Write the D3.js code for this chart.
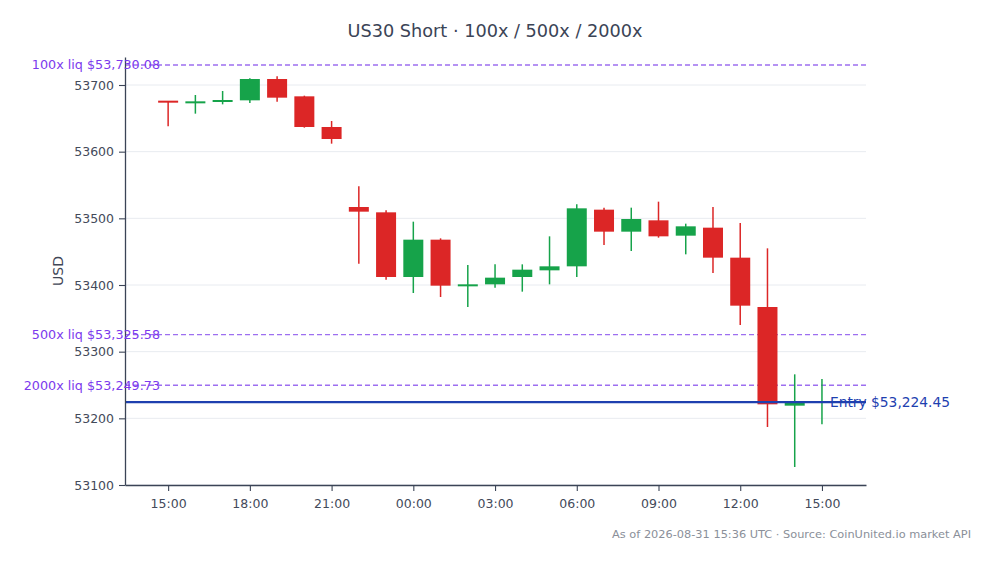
<!DOCTYPE html>
<html>
<head>
<meta charset="utf-8">
<script src="https://cdn.jsdelivr.net/npm/d3@7"></script>
<style>
  html, body { margin: 0; padding: 0; background: #fff; }
  svg { display: block; font-family: "DejaVu Sans", sans-serif; }
</style>
</head>
<body>
<div id="chart"></div>
<script>
// hourly candles, UTC
var hours = [
    "2026-08-30T15:00Z", "2026-08-30T16:00Z", "2026-08-30T17:00Z", "2026-08-30T18:00Z",
    "2026-08-30T19:00Z", "2026-08-30T20:00Z", "2026-08-30T21:00Z", "2026-08-30T22:00Z",
    "2026-08-30T23:00Z", "2026-08-31T00:00Z", "2026-08-31T01:00Z", "2026-08-31T02:00Z",
    "2026-08-31T03:00Z", "2026-08-31T04:00Z", "2026-08-31T05:00Z", "2026-08-31T06:00Z",
    "2026-08-31T07:00Z", "2026-08-31T08:00Z", "2026-08-31T09:00Z", "2026-08-31T10:00Z",
    "2026-08-31T11:00Z", "2026-08-31T12:00Z", "2026-08-31T13:00Z", "2026-08-31T14:00Z",
    "2026-08-31T15:00Z"
];
var opens  = [53676, 53673, 53675, 53677, 53709, 53683, 53637, 53517, 53509, 53412, 53468, 53398, 53401,
              53412, 53422, 53428, 53513, 53480, 53497, 53474, 53486, 53441, 53367, 53219, 53223];
var highs  = [53676, 53685, 53691, 53710, 53713, 53684, 53646, 53548, 53512, 53495, 53470, 53430, 53431,
              53431, 53473, 53521, 53516, 53516, 53525, 53492, 53517, 53493, 53455, 53266, 53259];
var lows   = [53638, 53657, 53671, 53673, 53675, 53636, 53612, 53432, 53408, 53388, 53382, 53367, 53396,
              53390, 53401, 53412, 53460, 53451, 53471, 53446, 53418, 53340, 53187, 53127, 53191];
var closes = [53674, 53675, 53677, 53709, 53681, 53637, 53619, 53510, 53412, 53468, 53399, 53401, 53411,
              53423, 53428, 53515, 53480, 53499, 53473, 53488, 53441, 53369, 53221, 53223, 53226];

var liqLabels = ["100x", "500x", "2000x"];
var liqPrices = [53730.08, 53325.58, 53249.73];
var entryPrice = 53224.45;

var yTicks = [53100, 53200, 53300, 53400, 53500, 53600, 53700];

var titleText = "US30 Short \u00b7 100x / 500x / 2000x";
var footText = "As of 2026-08-31 15:36 UTC \u00b7 Source: CoinUnited.io market API";

//==========================================================================================
var drawChart = function () {
    var width = 994, height = 564;
    var pLeft = 125, pRight = 866, pTop = 57, pBottom = 485;

    var candles = hours.map(function (h, i) {
        return { t: new Date(h), o: opens[i], h: highs[i], l: lows[i], c: closes[i] };
    });

    var svg = d3.select("#chart").append("svg")
        .attr("width", width).attr("height", height);

    var t0 = candles[0].t, t1 = candles[candles.length - 1].t;
    var xScale = d3.scaleUtc()
        .domain([new Date(+t0 - 95 * 60000), new Date(+t1 + 97 * 60000)])
        .range([pLeft, pRight]);

    var yScale = d3.scaleLinear()
        .domain([53100, 53742])
        .range([pBottom, pTop]);

    // grid
    svg.append("g").selectAll("line").data(yTicks).enter().append("line")
        .attr("x1", pLeft).attr("x2", pRight)
        .attr("y1", function (d) { return yScale(d); })
        .attr("y2", function (d) { return yScale(d); })
        .style("stroke", "#e8ebf0").style("stroke-width", 1);

    // liquidation levels (under the candles)
    var fmt = d3.format(",.2f");
    svg.append("g").selectAll("line").data(liqPrices).enter().append("line")
        .attr("x1", pLeft).attr("x2", pRight)
        .attr("y1", function (d) { return yScale(d); })
        .attr("y2", function (d) { return yScale(d); })
        .style("stroke", "#9d6ff0").style("stroke-width", 1.4)
        .style("stroke-dasharray", "5,3");

    // candles
    var bodyW = 20;
    var g = svg.append("g");
    candles.forEach(function (d) {
        var col = d.c >= d.o ? "#16a34a" : "#dc2626";
        var x = xScale(d.t);
        g.append("line")
            .attr("x1", x).attr("x2", x)
            .attr("y1", yScale(d.h)).attr("y2", yScale(d.l))
            .style("stroke", col).style("stroke-width", 1.5);
        var yTop = yScale(Math.max(d.o, d.c)), yBot = yScale(Math.min(d.o, d.c));
        var hgt = Math.max(2, yBot - yTop);
        g.append("rect")
            .attr("x", x - bodyW / 2).attr("width", bodyW)
            .attr("y", (yTop + yBot) / 2 - hgt / 2).attr("height", hgt)
            .style("fill", col);
    });

    // entry line on top
    svg.append("line")
        .attr("x1", pLeft).attr("x2", pRight)
        .attr("y1", yScale(entryPrice)).attr("y2", yScale(entryPrice))
        .style("stroke", "#1e40af").style("stroke-width", 2.3);

    // axes
    var xAxis = d3.axisBottom(xScale)
        .ticks(d3.utcHour.every(3))
        .tickFormat(d3.utcFormat("%H:%M"))
        .tickSizeInner(6).tickSizeOuter(0).tickPadding(8);
    var yAxis = d3.axisLeft(yScale)
        .tickValues(yTicks).tickFormat(d3.format("d"))
        .tickSizeInner(6).tickSizeOuter(0).tickPadding(5);

    var gx = svg.append("g").attr("transform", "translate(0," + pBottom + ")").call(xAxis);
    var gy = svg.append("g").attr("transform", "translate(" + pLeft + ",0)").call(yAxis);
    [gx, gy].forEach(function (a) {
        a.select(".domain").style("stroke", "#3b4456").style("stroke-width", 1.3);
        a.selectAll(".tick line").style("stroke", "#3b4456").style("stroke-width", 1.1);
        a.selectAll(".tick text").style("fill", "#434a5a")
            .style("font-size", "12.5px").style("font-family", "DejaVu Sans, sans-serif");
    });

    // level labels, drawn over the axis
    svg.append("g").selectAll("text").data(liqPrices).enter().append("text")
        .attr("x", 160)
        .attr("y", function (d) { return yScale(d) + 4.5; })
        .attr("text-anchor", "end")
        .style("fill", "#7c3aed").style("font-size", "12.75px")
        .text(function (d, i) { return liqLabels[i] + " liq $" + fmt(d); });

    svg.append("text")
        .attr("x", xScale(t1) + 8).attr("y", yScale(entryPrice) + 4.5)
        .style("fill", "#1e40af").style("font-size", "13.8px")
        .text("Entry $" + fmt(entryPrice));

    // titles
    svg.append("text")
        .attr("x", 495).attr("y", 37)
        .attr("text-anchor", "middle")
        .style("fill", "#3b4456").style("font-size", "17.7px")
        .text(titleText);

    svg.append("text")
        .attr("transform", "translate(63," + ((pTop + pBottom) / 2) + ") rotate(-90)")
        .attr("text-anchor", "middle")
        .style("fill", "#3f4656").style("font-size", "14px")
        .text("USD");

    svg.append("text")
        .attr("x", 971).attr("y", 538)
        .attr("text-anchor", "end")
        .style("fill", "#8a8f99").style("font-size", "11.35px")
        .text(footText);
};

drawChart();
</script>
</body>
</html>
